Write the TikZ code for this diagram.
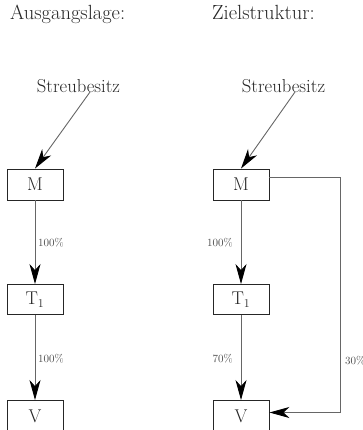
\documentclass[tikz,border=0pt]{standalone}
\usepackage{fontspec}
\setmainfont{Latin Modern Roman}
\usetikzlibrary{arrows.meta,calc}
\begin{document}
\begin{tikzpicture}[x=1pt,y=1pt,
  box/.style={draw=black!85, line width=0.9pt, minimum width=56pt, minimum height=31pt, inner sep=0pt, font=\fontsize{18.5}{21}\selectfont, text=black!85},
  lbl/.style={font=\fontsize{11}{13}\selectfont, text=black!70, inner sep=0pt},
  ttl/.style={font=\fontsize{20.5}{23}\selectfont, text=black!85, inner sep=0pt, anchor=base west},
  src/.style={font=\fontsize{18.7}{21}\selectfont, text=black!85, inner sep=0pt, anchor=base},
  arr/.style={draw=black!60, line width=0.9pt, -{Stealth[length=20pt,width=11pt,inset=6pt,color=black]}}
]
\useasboundingbox (0,0) rectangle (362,-430);
\clip (0,0) rectangle (362,-430);
% titles
\node[ttl] (t1) at (10,-20) {Ausgangslage:};
\node[ttl] (t2) at (212,-20) {Zielstruktur:};
% left structure
\node[src] (s1) at (78.5,-93) {Streubesitz};
\node[box] (m1) at (35,-184.5) {M};
\node[box, minimum height=30pt] (ta) at (35,-299.5) {T$_1$};
\node[box] (v1) at (35,-416) {V};
\draw[arr] ([xshift=11.5pt,yshift=1pt]s1.base) -- (m1.north);
\draw[arr] (m1) -- (ta);
\draw[arr] (ta) -- (v1);
\node[lbl, anchor=west] (l1) at (38,-242.5) {100\%};
\node[lbl, anchor=west] (l2) at (38,-359) {100\%};
% right structure
\node[src] (s2) at (283.5,-93) {Streubesitz};
\node[box] (m2) at (241,-184.5) {M};
\node[box, minimum height=30pt] (tb) at (241,-299.5) {T$_1$};
\node[box] (v2) at (241,-416) {V};
\draw[arr] ([xshift=11.5pt,yshift=1pt]s2.base) -- (m2.north);
\draw[arr] (m2) -- (tb);
\draw[arr] (tb) -- (v2);
\draw[arr] ([yshift=7pt]m2.east) -| ($(v2.east)+(71,3.5)$) |- ([yshift=3.5pt]v2.east);
\node[lbl, anchor=east] (r1) at (233,-242.5) {100\%};
\node[lbl, anchor=east] (r2) at (233,-359) {70\%};
\node[lbl, anchor=west] (r3) at (345,-361) {30\%};
\end{tikzpicture}
\end{document}
